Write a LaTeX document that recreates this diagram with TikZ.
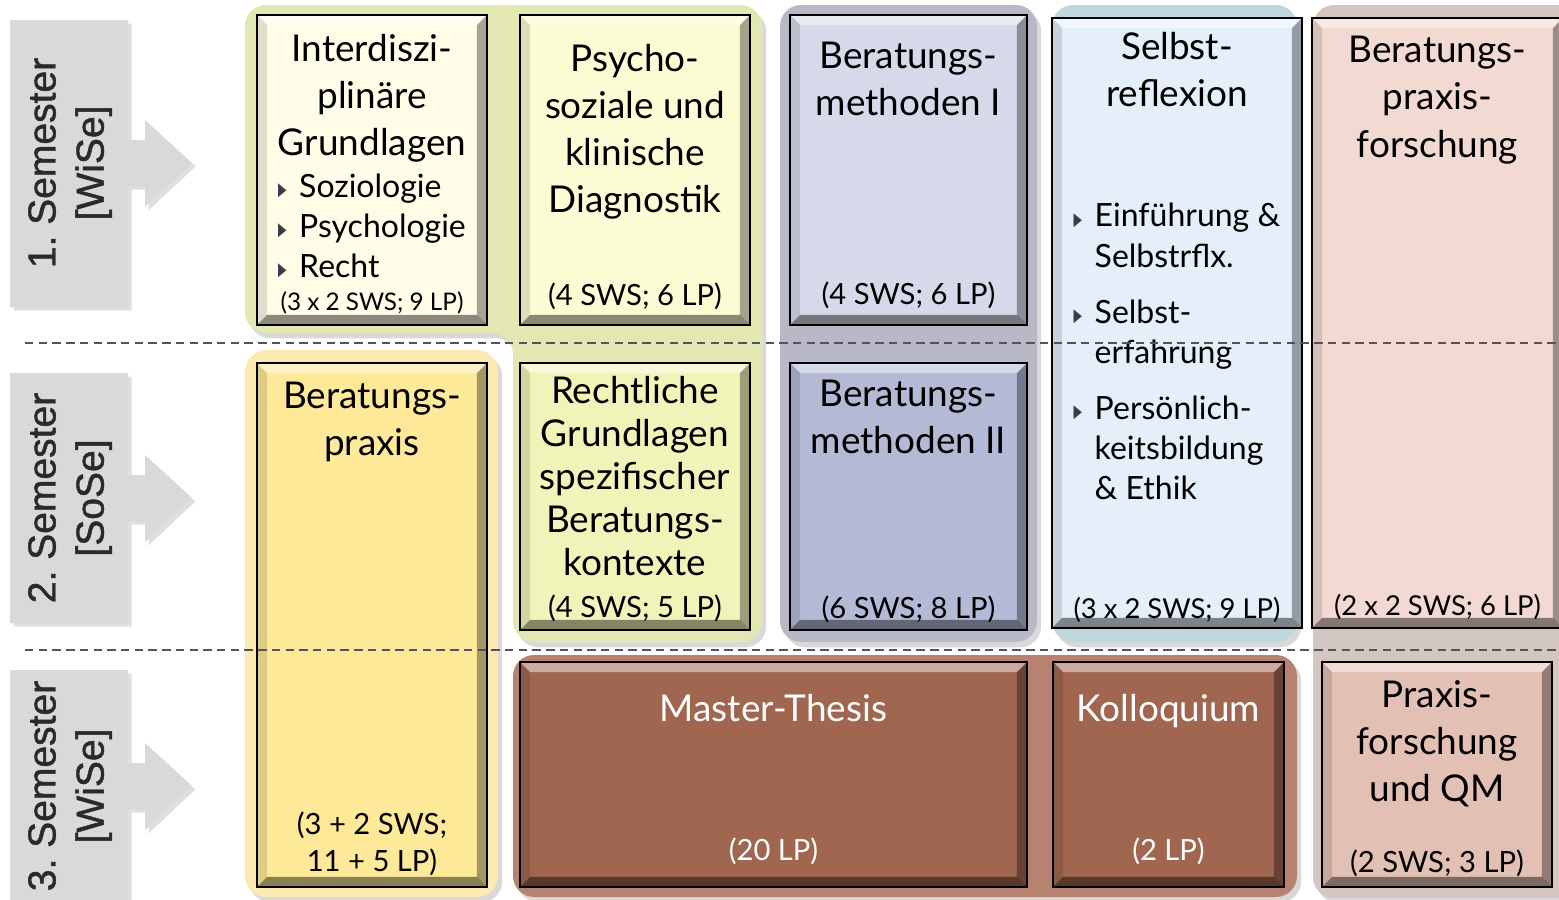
\documentclass[tikz,border=0pt]{standalone}
\usepackage{fontspec}
\setmainfont{Lato}
\newfontfamily\semfont{Liberation Sans}
\newfontfamily\symfont{DejaVu Sans}
\usepackage{graphicx}
\usepackage{tikz}
\usetikzlibrary{positioning,fit,shadows}
\definecolor{semgrey}{HTML}{D9D9D9}
\definecolor{semtxt}{HTML}{2A2A2A}
\definecolor{trenngrau}{HTML}{50545E}
\definecolor{pktgrau}{HTML}{3A3D48}
\definecolor{gruenbg}{HTML}{E3E8B3}
\definecolor{interfill}{HTML}{FDFDE8}
\definecolor{psychofill}{HTML}{FBFCD4}
\definecolor{rechtfill}{HTML}{F1F4B8}
\definecolor{lilabg}{HTML}{B8B8C6}
\definecolor{methIfill}{HTML}{D6D9E9}
\definecolor{methIIfill}{HTML}{B4BAD6}
\definecolor{blaubg}{HTML}{C0D6DE}
\definecolor{selbstfill}{HTML}{E4EFF9}
\definecolor{rosabg}{HTML}{D4C6C1}
\definecolor{forschfill}{HTML}{F2DAD3}
\definecolor{qmfill}{HTML}{E2C0B4}
\definecolor{braunbg}{HTML}{B88270}
\definecolor{braunfill}{HTML}{A06650}
\definecolor{gelbbg}{HTML}{FDE9B2}
\definecolor{gelbfill}{HTML}{FDE998}
\tikzset{bevel/.style={path picture={
  \fill[white,opacity=.45] (path picture bounding box.north west) -- (path picture bounding box.north east)
    -- ([shift={(-1mm,-1mm)}]path picture bounding box.north east) -- ([shift={(1mm,-1mm)}]path picture bounding box.north west) -- cycle;
  \fill[black,opacity=.12] (path picture bounding box.north west) -- (path picture bounding box.south west)
    -- ([shift={(1mm,1mm)}]path picture bounding box.south west) -- ([shift={(1mm,-1mm)}]path picture bounding box.north west) -- cycle;
  \fill[black,opacity=.35] (path picture bounding box.north east) -- (path picture bounding box.south east)
    -- ([shift={(-1mm,1mm)}]path picture bounding box.south east) -- ([shift={(-1mm,-1mm)}]path picture bounding box.north east) -- cycle;
  \fill[black,opacity=.45] (path picture bounding box.south west) -- (path picture bounding box.south east)
    -- ([shift={(-1mm,1mm)}]path picture bounding box.south east) -- ([shift={(1mm,1mm)}]path picture bounding box.south west) -- cycle;
}}}
\tikzstyle{modul}=[draw=black, line width=.8pt, inner sep=0pt, bevel]
\tikzstyle{titel}=[inner sep=0pt, align=center, font=\fontsize{10.5}{13.4}\selectfont]
\tikzstyle{lp}=[inner sep=0pt, align=center, font=\fontsize{8.3}{10.5}\selectfont]
\tikzstyle{lpklein}=[lp, font=\fontsize{7.8}{10}\selectfont]
\tikzstyle{punkte}=[inner sep=0pt, align=left, font=\fontsize{9.1}{11.4}\selectfont]
\tikzstyle{gruppe}=[rounded corners=6pt, drop shadow={opacity=.3, shadow xshift=1.2pt, shadow yshift=-1.5pt}]
\tikzstyle{semform}=[fill=semgrey, drop shadow={opacity=.25, shadow xshift=1pt, shadow yshift=-1pt}]
\tikzstyle{semtext}=[inner sep=0pt, rotate=90, align=center, text=semtxt, font=\semfont\fontsize{11.1}{13.7}\selectfont\addfontfeatures{FakeBold=1.2}]
\tikzstyle{trenner}=[draw=trenngrau, line width=.6pt, dash pattern=on 2.4pt off 1.5pt]
\newcommand{\pkt}{\makebox[0.21cm][l]{\raisebox{0.5pt}{\symfont\fontsize{5.2}{5.2}\selectfont\textcolor{pktgrau}{\scalebox{0.6}[1]{▶}}}}}

\begin{document}
\begin{tikzpicture}[x=0.01cm, y=-0.01cm]
      \useasboundingbox (0,0) rectangle (1559,900);
      \clip (0,0) rectangle (1559,900);
      % semester
      \foreach \ya/\yb/\ym in {20/307/163, 373/623/498, 670/915/786}{
        \fill[semform] (10,\ya) -- (128,\ya) -- (128,\ym-23) -- (145,\ym-23) -- (145,\ym-43) -- (192,\ym)
          -- (145,\ym+44) -- (145,\ym+23) -- (128,\ym+23) -- (128,\yb) -- (10,\yb) -- cycle;
      }
      % gruppen
      \fill[gruppe, fill=gruenbg] (245,5) -- (762,5) -- (762,642) -- (513,642) -- (513,333) -- (245,333) -- cycle;
      \fill[gruppe, fill=lilabg] (780,5) rectangle (1037,642);
      \fill[gruppe, fill=blaubg] (1052,5) rectangle (1297,642);
      \fill[gruppe, fill=rosabg] (1313,5) rectangle (1580,898);
      \fill[gruppe, fill=braunbg] (513,655) rectangle (1297,897);
      \fill[gruppe, fill=gelbbg] (245,350) rectangle (498,897);
      % module
      \node[modul, fill=interfill, fit={(257,15) (487,325)}] (interdis) {};
      \node[modul, fill=psychofill, fit={(520,15) (750,325)}] (psycho) {};
      \node[modul, fill=rechtfill, fit={(520,363) (750,630)}] (recht) {};
      \node[modul, fill=methIfill, fit={(790,15) (1027,325)}] (methI) {};
      \node[modul, fill=methIIfill, fit={(790,363) (1027,630)}] (methII) {};
      \node[modul, fill=selbstfill, fit={(1052,18) (1302,628)}] (selbst) {};
      \node[modul, fill=forschfill, fit={(1312,18) (1563,628)}] (forsch) {};
      \node[modul, fill=gelbfill, fit={(257,363) (487,887)}] (praxis) {};
      \node[modul, fill=braunfill, fit={(520,662) (1027,887)}] (thesis) {};
      \node[modul, fill=braunfill, fit={(1053,662) (1284,887)}] (kollo) {};
      \node[modul, fill=qmfill, fit={(1322,662) (1552,887)}] (qm) {};
      % texte
      \node[titel, below=0.2cm of interdis.north] (interdisT) {Interdiszi-\\plinäre\\Grundlagen};
      \node[punkte, below=0.1cm of interdisT] (interdisP) {\pkt Soziologie\\\pkt Psychologie\\\pkt Recht};
      \node[lp, font=\fontsize{6.9}{9}\selectfont, above=0.12cm of interdis.south] (interdisL) {(3 x 2 SWS; 9 LP)};
      \node[titel, below=0.3cm of psycho.north] (psychoT) {Psycho-\\soziale und\\klinische\\Diagnostik};
      \node[lp, above=0.16cm of psycho.south] (psychoL) {(4 SWS; 6 LP)};
      \node[titel, font=\fontsize{10.5}{12.2}\selectfont, below=0.14cm of recht.north] (rechtT) {Rechtliche\\Grundlagen\\spezifischer\\Beratungs-\\kontexte};
      \node[lp, above=0.09cm of recht.south] (rechtL) {(4 SWS; 5 LP)};
      \node[titel, below=0.28cm of methI.north] (methIT) {Beratungs-\\methoden I};
      \node[lp, above=0.17cm of methI.south] (methIL) {(4 SWS; 6 LP)};
      \node[titel, below=0.18cm of methII.north] (methIIT) {Beratungs-\\methoden II};
      \node[lp, above=0.08cm of methII.south] (methIIL) {(6 SWS; 8 LP)};
      \node[titel, below=0.15cm of selbst.north] (selbstT) {Selbst-\\reflexion};
      \node[punkte, below=0.95cm of selbstT] (selbstP) {\pkt Einführung \&\\\hspace*{0.21cm}Selbstrflx.\\[0.16cm]\pkt Selbst-\\\hspace*{0.21cm}erfahrung\\[0.16cm]\pkt Persönlich-\\\hspace*{0.21cm}keitsbildung\\\hspace*{0.21cm}\& Ethik};
      \node[lpklein, above=0.06cm of selbst.south] (selbstL) {(3 x 2 SWS; 9 LP)};
      \node[titel, below=0.19cm of forsch.north] (forschT) {Beratungs-\\praxis-\\forschung};
      \node[lpklein, above=0.09cm of forsch.south] (forschL) {(2 x 2 SWS; 6 LP)};
      \node[titel, below=0.2cm of praxis.north] (praxisT) {Beratungs-\\praxis};
      \node[lp, above=0.12cm of praxis.south] (praxisL) {(3 + 2 SWS;\\11 + 5 LP)};
      \node[titel, text=white, below=0.33cm of thesis.north] (thesisT) {Master-Thesis};
      \node[lp, text=white, above=0.23cm of thesis.south] (thesisL) {(20 LP)};
      \node[titel, text=white, below=0.33cm of kollo.north] (kolloT) {Kolloquium};
      \node[lp, text=white, above=0.23cm of kollo.south] (kolloL) {(2 LP)};
      \node[titel, below=0.19cm of qm.north] (qmT) {Praxis-\\forschung\\und QM};
      \node[lp, above=0.11cm of qm.south] (qmL) {(2 SWS; 3 LP)};
      % semester texte
      \foreach \n/\ym/\sem in {1/163/WiSe, 2/498/SoSe, 3/786/WiSe}
        \node[semtext] (sem\n) at (70,\ym) {\n.~Semester\\{[\sem]}};
      % trennlinien
      \draw[trenner] (25,343) -- (1559,343);
      \draw[trenner] (25,650) -- (1559,650);
\end{tikzpicture}
\end{document}
